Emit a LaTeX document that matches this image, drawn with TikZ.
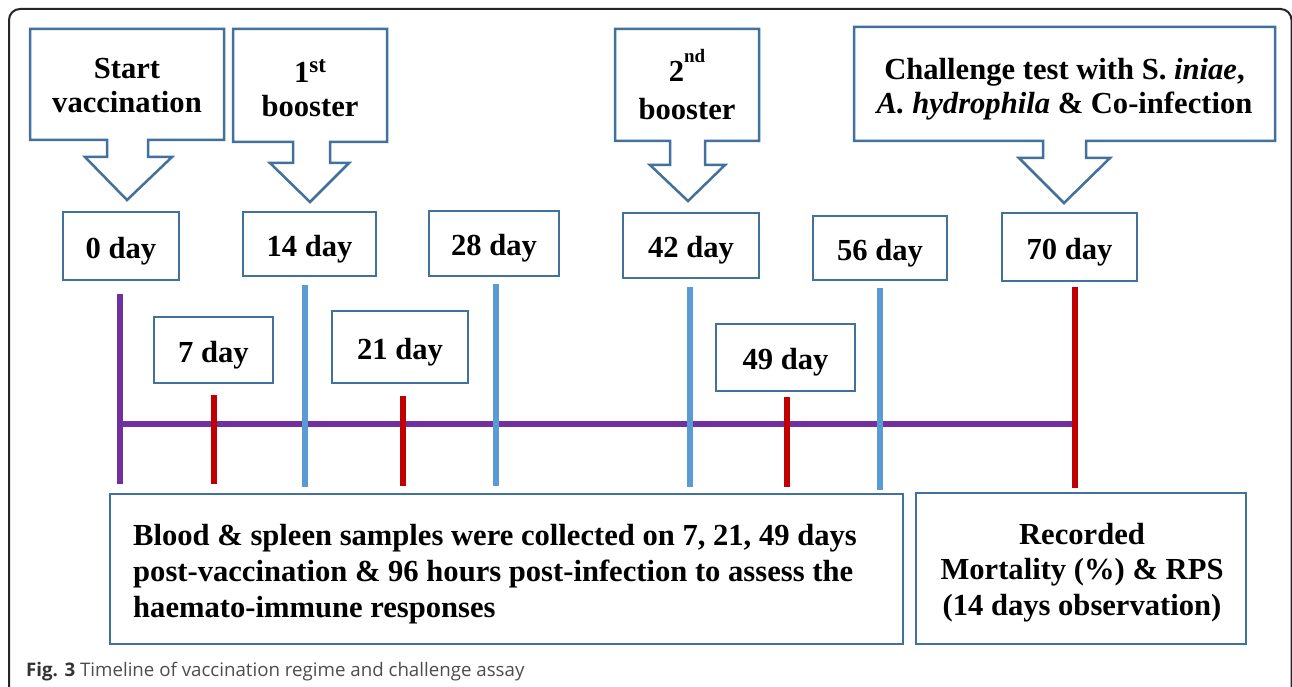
\documentclass[tikz,border=0pt]{standalone}
\usepackage{fontspec}
\setmainfont{Liberation Serif}
\newfontfamily\capfont{Open Sans}
\definecolor{boxblue}{HTML}{41719C}
\definecolor{tickblue}{HTML}{5B9BD5}
\definecolor{tlpurple}{HTML}{7030A0}
\definecolor{tickred}{HTML}{C00000}
\definecolor{capdark}{HTML}{333333}
\definecolor{capgray}{HTML}{4D4D4D}
\newcommand\bigbf{\fontsize{30.6}{34}\selectfont\bfseries}
\newcommand\supsm[1]{\raisebox{10pt}{\fontsize{23}{23}\selectfont #1}}
\tikzset{
  callout/.style={draw=boxblue, line width=2.5pt, fill=white, line join=miter},
  calltext/.style={align=center, font=\bigbf, inner sep=0pt},
  daybox/.style={draw=boxblue, line width=2.5pt, fill=white, inner sep=0pt,
    font=\bigbf, text height=30pt, text depth=6pt},
  notebox/.style={draw=boxblue, line width=2.5pt, fill=white, inner sep=0pt},
  notetext/.style={font=\fontsize{30.6}{36}\selectfont\bfseries, inner sep=0pt},
  tick/.style={line width=5.5pt},
}
\begin{document}
\begin{tikzpicture}[x=1pt, y=-1pt]
\useasboundingbox (0,0) rectangle (1292,687);
\fill[white] (0,0) rectangle (1292,687);

% outer frame, open at the bottom
\begin{scope}
  \clip (0,0) rectangle (1292,687);
  \draw[line width=2pt, black!85, rounded corners=11pt]
    (9,720) -- (9,9) -- (1291.5,9) -- (1291.5,720);
\end{scope}

% callouts: box with a downward block arrow
\draw[callout] (30,29) -- (224,29) -- (224,140) -- (148,140) -- (148,157)
  -- (172,157) -- (127,200) -- (85,157) -- (107,157) -- (107,140) -- (30,140) -- cycle;
\node[calltext] (cStart) at (127,86) {Start\\vaccination};

\draw[callout] (233,29) -- (387,29) -- (387,142) -- (330,142) -- (330,163)
  -- (349,163) -- (310,202) -- (270,163) -- (293,163) -- (293,142) -- (233,142) -- cycle;
\node[calltext] (cFirst) at (310,88) {1\supsm{st}\\booster};

\draw[callout] (615,29) -- (759,29) -- (759,141) -- (705,141) -- (705,165)
  -- (725,165) -- (688,201) -- (650,165) -- (670,165) -- (670,141) -- (615,141) -- cycle;
\node[calltext] (cSecond) at (687,85) {2\raisebox{0.62em}{\fontsize{19}{19}\selectfont nd}\\[4pt]booster};

\draw[callout] (854,27) -- (1275,27) -- (1275,141) -- (1086,141) -- (1086,158)
  -- (1110,158) -- (1064,203) -- (1019,158) -- (1043,158) -- (1043,141) -- (854,141) -- cycle;
\node[calltext] (cChall) at (1064.5,89)
  {Challenge test with S. \textit{iniae},\\\textit{A. hydrophila} \& Co-infection};

% day labels
\node[daybox, minimum width=116pt, minimum height=68pt] (d0)  at (121,246)    {0 day};
\node[daybox, minimum width=133pt, minimum height=64pt] (d14) at (309.5,244)  {14 day};
\node[daybox, minimum width=130pt, minimum height=65pt] (d28) at (494,243.5)  {28 day};
\node[daybox, minimum width=136pt, minimum height=65pt] (d42) at (691,245.5)  {42 day};
\node[daybox, minimum width=134pt, minimum height=64pt] (d56) at (880,248)    {56 day};
\node[daybox, minimum width=135pt, minimum height=68pt] (d70) at (1069.5,247) {70 day};
\node[daybox, minimum width=119pt, minimum height=66pt] (d7)  at (213.5,350)  {7 day};
\node[daybox, minimum width=136pt, minimum height=72pt] (d21) at (400,347)    {21 day};
\node[daybox, minimum width=139pt, minimum height=67pt] (d49) at (785.5,357.5){49 day};

% timeline
\coordinate (tlStart) at (120,424);
\coordinate (tlEnd) at (1073,424);
\draw[tick, tlpurple] (120,294) -- (120,484);
\draw[tick, tlpurple] (tlStart) -- (tlEnd);
\foreach \x/\a/\b in {305/285/487, 496/284/486, 690/287/487, 880/288/490}
  \draw[tick, tickblue] (\x,\a) -- (\x,\b);
\foreach \x/\a/\b in {214/395/484, 403/396/486, 787/397/487, 1075/287/488}
  \draw[tick, tickred] (\x,\a) -- (\x,\b);

% notes below the timeline
\node[notebox, minimum width=793pt, minimum height=150pt] (bSamples) at (506.5,569) {};
\node[notetext, anchor=west, align=left] (tSamples) at (133,574)
  {Blood \& spleen samples were collected on 7, 21, 49 days\\
   post-vaccination \& 96 hours post-infection to assess the\\
   haemato-immune responses};
\node[notebox, minimum width=330pt, minimum height=151pt] (bMort) at (1081,568.5) {};
\node[notetext, align=center, font=\fontsize{30.6}{35.5}\selectfont\bfseries] (tMort) at (1082,572.5)
  {Recorded\\Mortality (\%) \& RPS\\(14 days observation)};

% caption
\node[anchor=west, inner sep=0pt, text=capgray] (caption) at (26,672)
  {\capfont\fontsize{18.7}{18.7}\selectfont\textcolor{capdark}{\textbf{Fig. 3}} Timeline of vaccination regime and challenge assay};
\end{tikzpicture}
\end{document}
